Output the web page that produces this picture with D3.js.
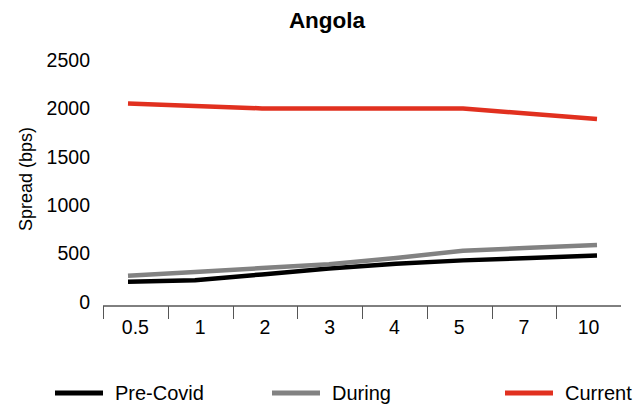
<!DOCTYPE html>
<html>
<head>
<meta charset="utf-8">
<script src="https://cdn.jsdelivr.net/npm/d3@7/dist/d3.min.js"></script>
<style>
  html, body { margin: 0; padding: 0; background: #fff; }
  svg { display: block; font-family: "Liberation Sans", Arial, Helvetica, sans-serif; }
</style>
</head>
<body>
<svg id="chart" width="634" height="406"></svg>
<script>
// Tenors (years) on the horizontal axis
const tenors = ["0.5", "1", "2", "3", "4", "5", "7", "10"];
// Spread in basis points per period
const preCovid = [210, 225, 285, 345, 395, 430, 455, 480];
const during   = [270, 310, 350, 390, 455, 530, 560, 590];
const current  = [2050, 2025, 2000, 2000, 2000, 2000, 1945, 1890];
const yTicks = [0, 500, 1000, 1500, 2000, 2500];

const series = [
  { name: "Pre-Covid", values: preCovid, color: "#000000" },
  { name: "During",    values: during,   color: "#828282" },
  { name: "Current",   values: current,  color: "#E1301F" }
];

const svg = d3.select("#chart");

// Scales
const xBand = d3.scaleBand().domain(tenors).range([103, 621]);
const xPoint = d3.scalePoint().domain(tenors).range([128, 597]);
const y = d3.scaleLinear().domain([0, 2500]).range([302, 60]);

// Title
svg.append("text")
  .attr("x", 327).attr("y", 28)
  .attr("text-anchor", "middle")
  .attr("font-size", 22.5).attr("font-weight", "bold")
  .text("Angola");

// Y axis (labels only)
const yAxis = svg.append("g")
  .attr("transform", "translate(90,0)")
  .call(d3.axisLeft(y).tickValues(yTicks).tickSize(0).tickPadding(0).tickFormat(d3.format("d")));
yAxis.select(".domain").remove();
yAxis.selectAll("text").attr("font-size", 19.5).attr("fill", "#000")
  .attr("font-family", "Liberation Sans, Arial, sans-serif");

// Y axis title
svg.append("text")
  .attr("transform", "translate(32,179) rotate(-90)")
  .attr("text-anchor", "middle")
  .attr("font-size", 18)
  .text("Spread (bps)");

// X axis: baseline, boundary ticks, centred labels
const axisY = 306;
const xg = svg.append("g");
xg.append("line")
  .attr("x1", xBand.range()[0]).attr("x2", xBand.range()[1])
  .attr("y1", axisY).attr("y2", axisY)
  .attr("stroke", "#000").attr("stroke-width", 1);
xg.selectAll("line.tick")
  .data(tenors)
  .join("line")
  .attr("class", "tick")
  .attr("x1", d => Math.round(xBand(d)) + 0.5)
  .attr("x2", d => Math.round(xBand(d)) + 0.5)
  .attr("y1", axisY).attr("y2", axisY + 13)
  .attr("stroke", "#555").attr("stroke-width", 1);
xg.selectAll("text.lbl")
  .data(tenors)
  .join("text")
  .attr("class", "lbl")
  .attr("x", d => xBand(d) + xBand.bandwidth() / 2)
  .attr("y", 334)
  .attr("text-anchor", "middle")
  .attr("font-size", 19.5)
  .text(d => d);

// Series lines
const line = d3.line()
  .x((d, i) => xPoint(tenors[i]))
  .y(d => y(d));

svg.append("g").selectAll("path")
  .data(series)
  .join("path")
  .attr("d", s => line(s.values))
  .attr("fill", "none")
  .attr("stroke", s => s.color)
  .attr("stroke-width", 4.5)
  .attr("stroke-linejoin", "round");

// Legend
const legendX = [55, 272, 505];
const legend = svg.append("g").selectAll("g")
  .data(series)
  .join("g")
  .attr("transform", (s, i) => `translate(${legendX[i]},393)`);
legend.append("line")
  .attr("x1", 0).attr("x2", 48)
  .attr("y1", 0).attr("y2", 0)
  .attr("stroke", s => s.color)
  .attr("stroke-width", 5);
legend.append("text")
  .attr("x", 60).attr("y", 7)
  .attr("font-size", 20)
  .text(s => s.name);
</script>
</body>
</html>
